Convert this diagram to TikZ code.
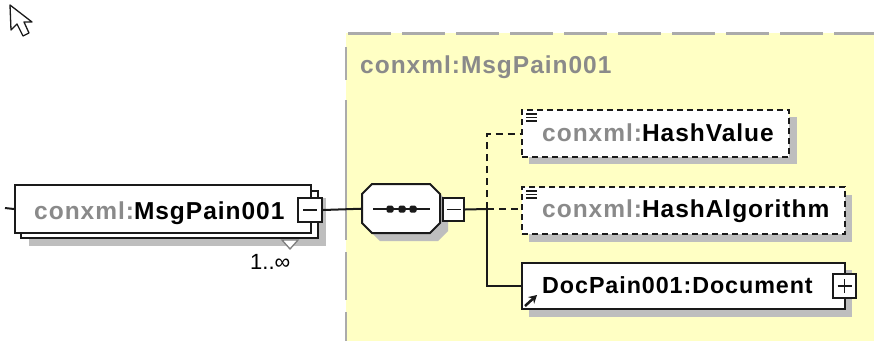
\documentclass[tikz,border=0pt]{standalone}
\usepackage{fontspec}
\setmainfont{Liberation Sans}
\newfontfamily\lblfont[LetterSpace=4]{Liberation Sans}
\usetikzlibrary{calc,arrows.meta}
\definecolor{panelyellow}{HTML}{FFFFC4}
\definecolor{panelgray}{HTML}{ABABAB}
\definecolor{shadowgray}{HTML}{BEBEBE}
\definecolor{nsgray}{HTML}{8A8A8A}
\definecolor{ink}{HTML}{1A1A1A}
\begin{document}
\begin{tikzpicture}[x=1pt,y=-1pt,
  box/.style={draw=ink, line width=2pt, fill=white, inner sep=0pt, anchor=north west},
  dbox/.style={box, dash pattern=on 6pt off 4pt},
  shadowbox/.style={fill=shadowgray, draw=none, inner sep=0pt, anchor=north west},
  ghost/.style={draw=none, inner sep=0pt, anchor=north west},
  lbl/.style={font=\lblfont\bfseries\fontsize{24.5}{28}\selectfont, anchor=base west, inner sep=0pt},
  conn/.style={draw=ink, line width=2pt},
  dconn/.style={conn, dash pattern=on 7pt off 5pt},
  icon/.style={draw=ink, line width=1.6pt}]
\useasboundingbox (0,0) rectangle (874,341);

% cursor
\draw[ink, line width=1.3pt, fill=white, line join=round]
  (10,5) -- (11,30) -- (17,24) -- (23,36) -- (29,33) -- (24,22) -- (32,22) -- cycle;

% yellow panel
\fill[panelyellow] (346,33) rectangle (874,341);
\draw[panelgray, line width=3pt, dash pattern=on 43pt off 11pt] (348,33) -- (874,33);
\draw[panelgray, line width=2pt] (346,47) -- (346,80) (346,100) -- (346,240) (346,252) -- (346,300) (346,312) -- (346,341);
\node[lbl, text=nsgray] (plabel) at (360,73) {conxml:MsgPain001};

% main element
\node[shadowbox, minimum width=297pt, minimum height=48pt] (mainshadow) at (29,198) {};
\node[box, minimum width=297pt, minimum height=47pt] (mainback) at (20,190) {};
\node[box, minimum width=296pt, minimum height=48pt] (main) at (14,184) {};
\node[lbl] (maintext) at (34,219) {\textcolor{nsgray}{conxml:}MsgPain001};
\node[box, minimum width=24pt, minimum height=24pt] (mainm) at (297,197) {};
\draw[icon] ([xshift=-7pt]mainm.center) -- ([xshift=7pt]mainm.center);
\draw[draw=gray, line width=1.3pt, fill=white] (282,240) -- (298,240) -- (290,249) -- cycle;
\node[anchor=base west, inner sep=0pt, font=\fontsize{22}{24}\selectfont] (mult) at (250,269) {1..∞};
\coordinate (stub) at (5,208);
\draw[conn] (stub) -- (main.west);

% sequence compositor
\node[ghost, minimum width=78pt, minimum height=49pt] (seq) at (362,184) {};
\begin{scope}[shift={(seq.north west)}]
  \fill[shadowgray] (18,8) -- (76,8) -- (86,18) -- (86,47) -- (76,57) -- (18,57) -- (8,47) -- (8,18) -- cycle;
  \draw[ink, line width=2pt, fill=white] (10,0) -- (68,0) -- (78,10) -- (78,39) -- (68,49) -- (10,49) -- (0,39) -- (0,10) -- cycle;
  \draw[ink, line width=2pt] (11,25) -- (68,25);
  \foreach \dx in {28,40,51} \fill[ink, rounded corners=1.5pt] (\dx-3.5,21.5) rectangle (\dx+3.5,28.5);
\end{scope}
\node[box, minimum width=21pt, minimum height=23pt] (seqm) at (442,197) {};
\draw[icon] ([xshift=-7pt]seqm.center) -- ([xshift=7pt]seqm.center);
\draw[conn] (mainm.east) -- (seq.west);

% children
\node[shadowbox, minimum width=268pt, minimum height=47pt] (hvshadow) at (529,117) {};
\node[dbox, minimum width=267pt, minimum height=47pt] (hv) at (521,109) {};
\node[lbl] (hvtext) at (542,141) {\textcolor{nsgray}{conxml:}HashValue};
\foreach \dy in {5,8.5,12} \draw[icon] ([shift={(5,\dy)}]hv.north west) -- ++(11,0);

\node[shadowbox, minimum width=323pt, minimum height=47pt] (hashadow) at (529,195) {};
\node[dbox, minimum width=323pt, minimum height=47pt] (ha) at (521,186) {};
\node[lbl] (hatext) at (542,217) {\textcolor{nsgray}{conxml:}HashAlgorithm};
\foreach \dy in {5,8.5,12} \draw[icon] ([shift={(5,\dy)}]ha.north west) -- ++(11,0);

\node[shadowbox, minimum width=323pt, minimum height=47pt] (docshadow) at (529,270) {};
\node[box, minimum width=323pt, minimum height=46pt] (doc) at (521,262) {};
\node[lbl, font=\lblfont\bfseries\fontsize{23.3}{28}\selectfont] (doctext) at (542,293) {DocPain001:Document};
\draw[ink, line width=2.5pt, -{Stealth[length=8pt,width=9pt]}] ([shift={(4,-4)}]doc.south west) -- ++(12,-11);
\node[box, minimum width=23pt, minimum height=24pt] (docp) at (832,273) {};
\draw[icon] ([xshift=-7pt]docp.center) -- ([xshift=7pt]docp.center);
\draw[icon] ([yshift=-7pt]docp.center) -- ([yshift=7pt]docp.center);

% connectors
\coordinate (J) at (487,209);
\draw[conn] (seqm.east) -- (J);
\draw[dconn] (J) -- (J |- hv.west) -- (hv.west);
\draw[dconn] (J) -- (J -| ha.west);
\draw[conn] (J) -- (J |- doc.west) -- (doc.west);
\end{tikzpicture}
\end{document}
